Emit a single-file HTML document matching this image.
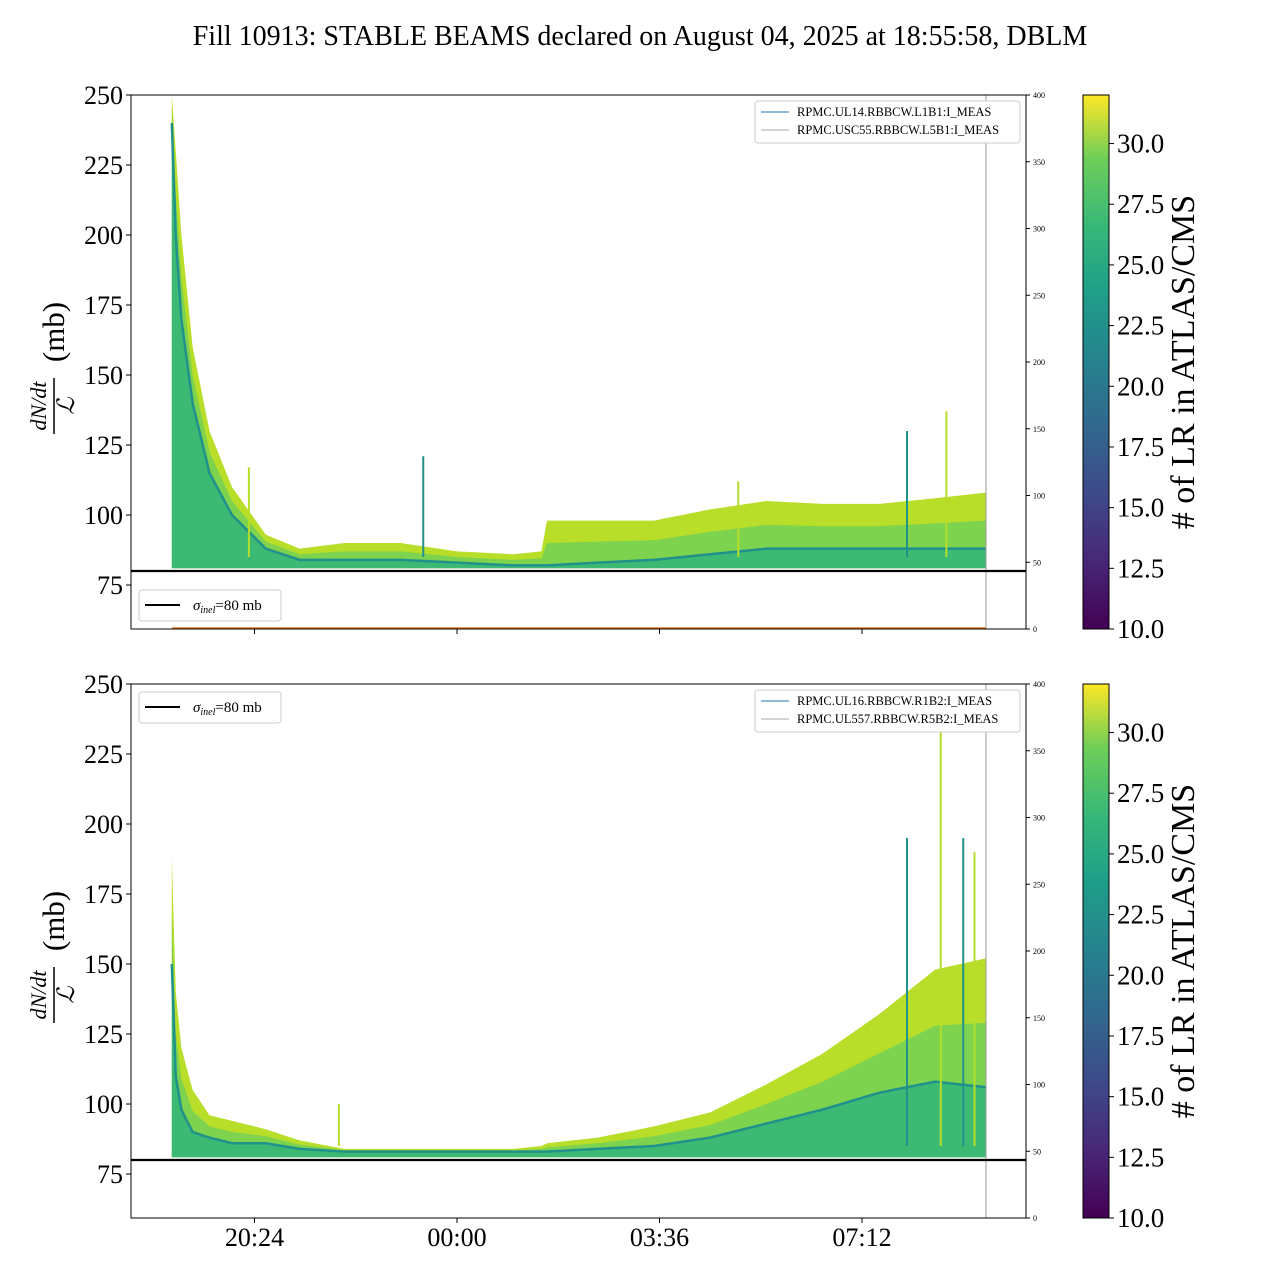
<!DOCTYPE html>
<html><head><meta charset="utf-8"><style>
body{margin:0;background:#fff;}
svg{display:block;font-family:"Liberation Serif",serif;}
</style></head><body>
<svg id="fig" width="1280" height="1280" viewBox="0 0 1280 1280">
<defs>
<linearGradient id="viridis" x1="0" y1="1" x2="0" y2="0">
<stop offset="0" stop-color="#440154"/><stop offset="0.13" stop-color="#482878"/><stop offset="0.25" stop-color="#3e4989"/><stop offset="0.38" stop-color="#31688e"/><stop offset="0.5" stop-color="#26828e"/><stop offset="0.63" stop-color="#1f9e89"/><stop offset="0.75" stop-color="#35b779"/><stop offset="0.88" stop-color="#6ece58"/><stop offset="1" stop-color="#fde725"/>
</linearGradient>
</defs>
<text x="640" y="45" text-anchor="middle" font-size="28">Fill 10913: STABLE BEAMS declared on August 04, 2025 at 18:55:58, DBLM</text>
<g id="panels"></g>
</svg>
<script>
// ---- data (hours since 00:00 of Aug 04; >24 = next day) ----
const times = [18.93,19.0,19.1,19.3,19.6,20.0,20.6,21.2,22.0,23.0,24.0,25.0,25.5,25.6,26.5,27.5,28.5,29.5,30.5,31.5,32.5,33.4];
const topUpper = [250,230,200,160,130,110,93,88,90,90,87,86,87,98,98,98,102,105,104,104,106,108];
const topMid = [240,200,170,140,115,100,88,84,84,84,83,82,82,82,83,84,86,88,88,88,88,88];
const topLower = [81,81,81,81,81,81,81,81,81,81,81,81,81,81,81,81,81,81,81,81,81,81];
const topSpikeTimes = [20.3,23.4,29.0,32.0,32.7];
const topSpikeValues = [117,121,112,130,137];
const botUpper = [188,140,120,105,96,94,91,87,84,84,84,84,85,86,88,92,97,107,118,132,148,152];
const botMid = [150,110,98,90,88,86,86,84,83,83,83,83,83,83,84,85,88,93,98,104,108,106];
const botLower = [81,81,81,81,81,81,81,81,81,81,81,81,81,81,81,81,81,81,81,81,81,81];
const botSpikeTimes = [21.9,32.0,32.6,33.0,33.2];
const botSpikeValues = [100,195,240,195,190];
const yTicks = [75,100,125,150,175,200,225,250];
const rTicks = [0,50,100,150,200,250,300,350,400];
const cTicks = [10.0,12.5,15.0,17.5,20.0,22.5,25.0,27.5,30.0];
const xTickHours = [20.4,24.0,27.6,31.2];
const xTickLabels = ["20:24","00:00","03:36","07:12"];
const sigma = 80;

const NS="http://www.w3.org/2000/svg";
const X0=131,X1=1026,YMIN=59.3,YMAX=250,CMIN=10,CMAX=32;
const xs=h=>457+(h-24)*56.25;
function mk(tag,attrs,parent){const e=document.createElementNS(NS,tag);for(const k in attrs)e.setAttribute(k,attrs[k]);parent.appendChild(e);return e;}
const root=document.getElementById('panels');

function panel(top,upper,mid,lower,spT,spV,legs,sigLegY,isBottom,idx){
  const bot=top+534;
  const ys=v=>bot-(v-YMIN)/(YMAX-YMIN)*534;
  const g=mk('g',{},root);
  
  
  function band(a,b,fill,op,name){
    let d='M'+times.map((t,i)=>xs(t)+','+ys(a[i])).join(' L');
    for(let i=times.length-1;i>=0;i--) d+=' L'+xs(times[i])+','+ys(b[i]);
    const p=mk('path',{d:d+'Z',fill:fill,'fill-opacity':op},g);
    
    
  }
  band(upper,lower,'#b8de29',1,'band-upper');
  band(upper.map((v,i)=>(v+mid[i])/2),lower,'#6ece58',0.8,'band-middle');
  band(mid,lower,'#35b779',0.9,'band-lower');
  const ml=mk('polyline',{points:times.map((t,i)=>xs(t)+','+ys(mid[i])).join(' '),fill:'none',stroke:'#21918c','stroke-width':2.5},g);
  
  
  spT.forEach((t,i)=>{
    const s=mk('line',{x1:xs(t),x2:xs(t),y1:ys(85),y2:ys(spV[i]),stroke:i%2?'#21918c':'#b5de2b','stroke-width':2},g);
    
    
  });
  const vl=mk('line',{x1:986,x2:986,y1:top,y2:bot,stroke:'#999','stroke-width':1},g);
  
  
  if(!isBottom){const o=mk('line',{x1:172,x2:986,y1:bot-1,y2:bot-1,stroke:'#e8701a','stroke-width':1.5},g);}
  const sl=mk('line',{x1:X0,x2:X1,y1:ys(sigma),y2:ys(sigma),stroke:'#000','stroke-width':2.2},g);
  
  
  const fr=mk('rect',{x:X0,y:top,width:X1-X0,height:534,fill:'none',stroke:'#000','stroke-width':1},g);
  
  
  yTicks.forEach(v=>{
    mk('line',{x1:X0-5,x2:X0,y1:ys(v),y2:ys(v),stroke:'#000'},g);
    const t=mk('text',{x:X0-8,y:ys(v)+9,'text-anchor':'end','font-size':26},g);t.textContent=v;
    
    
  });
  rTicks.forEach(v=>{
    const y=bot-v/400*534;
    mk('line',{x1:X1,x2:X1+4,y1:y,y2:y,stroke:'#000'},g);
    const t=mk('text',{x:X1+7,y:y+3,'font-size':8},g);t.textContent=v;
    
    
  });
  xTickHours.forEach((h,i)=>{
    mk('line',{x1:xs(h),x2:xs(h),y1:bot,y2:bot+5,stroke:'#000'},g);
    if(isBottom){const t=mk('text',{x:xs(h),y:bot+28,'text-anchor':'middle','font-size':26},g);t.textContent=xTickLabels[i];
      
      }
  });
  const yl=mk('g',{transform:`translate(58,${(top+bot)/2}) rotate(-90)`},g);
  
  
  const a=mk('text',{x:-44,y:-12,'text-anchor':'middle','font-size':22,'font-style':'italic'},yl);a.textContent='dN/dt';
  mk('line',{x1:-72,x2:-16,y1:-4,y2:-4,stroke:'#000','stroke-width':1.5},yl);
  const b=mk('text',{x:-44,y:16,'text-anchor':'middle','font-size':24,'font-style':'italic'},yl);b.textContent='\u2112';
  const c=mk('text',{x:30,y:6,'text-anchor':'middle','font-size':31},yl);c.textContent='(mb)';
  const lg=mk('g',{},g);
  
  
  mk('rect',{x:755,y:top+6,width:265,height:42,rx:3,fill:'#fff',stroke:'#ccc'},lg);
  legs.forEach((s,i)=>{
    mk('line',{x1:761,x2:789,y1:top+17+i*18,y2:top+17+i*18,stroke:i?'#aaa':'#1f77b4'},lg);
    const t=mk('text',{x:797,y:top+21+i*18,'font-size':12.5},lg);t.textContent=s;
  });
  const sg=mk('g',{},g);
  
  
  mk('rect',{x:139,y:sigLegY,width:142,height:31,rx:3,fill:'#fff',stroke:'#ccc'},sg);
  mk('line',{x1:145,x2:180,y1:sigLegY+15,y2:sigLegY+15,stroke:'#000','stroke-width':2},sg);
  const st=mk('text',{x:193,y:sigLegY+20,'font-size':15},sg);
  st.innerHTML='<tspan font-style="italic">σ</tspan><tspan font-size="10" dy="3" font-style="italic">inel</tspan><tspan dy="-3">=80 mb</tspan>';
  const cb=mk('g',{},g);
  
  
  mk('rect',{x:1083,y:top,width:26,height:534,fill:'url(#viridis)',stroke:'#000','stroke-width':1},cb);
  cTicks.forEach(v=>{
    const y=bot-(v-CMIN)/(CMAX-CMIN)*534;
    mk('line',{x1:1109,x2:1114,y1:y,y2:y,stroke:'#000'},cb);
    const t=mk('text',{x:1117,y:y+9,'font-size':27},cb);t.textContent=v.toFixed(1);
  });
  const ct=mk('text',{x:0,y:0,transform:`translate(1194,${(top+bot)/2}) rotate(-90)`,'text-anchor':'middle','font-size':34},cb);ct.textContent='# of LR in ATLAS/CMS';
  
}
panel(95,topUpper,topMid,topLower,topSpikeTimes,topSpikeValues,["RPMC.UL14.RBBCW.L1B1:I_MEAS","RPMC.USC55.RBBCW.L5B1:I_MEAS"],590,false,'top');
panel(684,botUpper,botMid,botLower,botSpikeTimes,botSpikeValues,["RPMC.UL16.RBBCW.R1B2:I_MEAS","RPMC.UL557.RBBCW.R5B2:I_MEAS"],692,true,'bottom');
</script>
</body></html>
